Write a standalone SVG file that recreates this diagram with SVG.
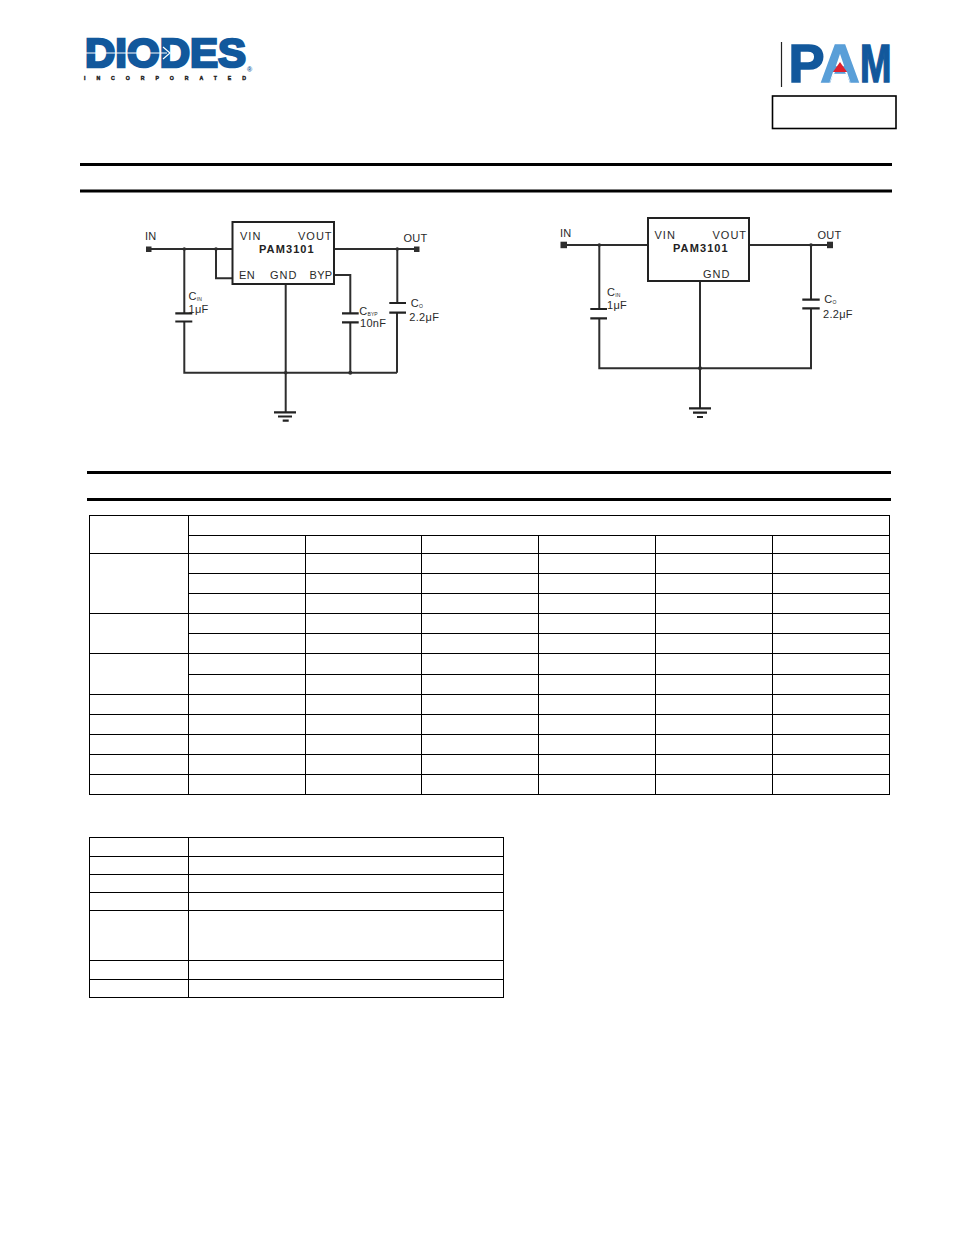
<svg xmlns="http://www.w3.org/2000/svg" width="954" height="1235" viewBox="0 0 954 1235">
<style>
.t{font-family:"Liberation Sans",Arial,sans-serif;fill:#2a2a2a;font-size:11px;letter-spacing:.3px}
.i{letter-spacing:1px}
.b{font-weight:bold;fill:#222;letter-spacing:1.1px}
.s{font-size:5px;letter-spacing:0}
.w{fill:none;stroke:#2e2e2e;stroke-width:2}
.p{fill:none;stroke:#222;stroke-width:2.2}
.n{fill:#2e2e2e}
.box{fill:#fff;stroke:#222;stroke-width:2}
.r{stroke:#000;stroke-width:3}
.logo{font-family:"Liberation Sans",Arial,sans-serif;font-weight:bold}
</style>
<rect width="954" height="1235" fill="#fff"/>
<g id="diodes-logo">
<text class="logo" x="85" y="66.800" font-size="40" fill="#12589c" stroke="#12589c" stroke-width="2.500" textLength="161" lengthAdjust="spacingAndGlyphs">DIODES</text>
<path d="M86 53H167" stroke="#fff" stroke-width="1" fill="none"/>
<path d="M163 47L170 53L163 59" stroke="#fff" stroke-width="1.200" fill="none"/>
<text class="logo" x="84" y="80" font-size="5.200" fill="#222" stroke="#222" stroke-width=".4" textLength="162">INCORPORATED</text>
<text class="logo" x="247" y="72" font-size="7" fill="#12589c">®</text>
</g>
<g id="pam-logo">
<path d="M781.500 42V87" stroke="#222" stroke-width="1.200"/>
<text class="logo" x="788.500 820.500" y="81.500" font-size="54" stroke-width="1.600"><tspan fill="#12589c" stroke="#12589c">P</tspan><tspan fill="#5a9fd8" stroke="#5a9fd8">A</tspan></text>
<polygon points="829,84 840,62 851,84 847,72 833,72" fill="#fff"/>
<polygon points="833,72 840,62 847,72" fill="#e0202e"/>
<text class="logo" x="860" y="81.500" font-size="54" fill="#12589c" stroke="#12589c" stroke-width="1.600" textLength="31.500" lengthAdjust="spacingAndGlyphs">M</text>
</g>
<g id="part-box"><rect x="772.500" y="96" width="123.500" height="32.500" fill="#fff" stroke="#000" stroke-width="1.600"/></g>
<g id="rules">
<path class="r" d="M80 164.500H892M80 191H892M87 472.500H891M87 499.500H891"/>
</g>
<g id="connectors">
<path class="w" d="M150 249H232M216 249V278.300H232M184.300 249V313M184.300 321.500V372.700H397M334 249H415M397.300 249V303M397 312.700V372.700M334 275H350.300V313M350.300 322.300V372.700M285.700 284V412"/>
<path class="p" d="M175.300 313.300H192.300M175.300 321.500H192.300M342 313.300H358.700M342 322.300H358.700M389.300 303H406M389.300 312.700H406M274 412.300H296M278 416.500H292M282.700 420.700H288.700"/>
<path class="w" d="M565 245H647M599.300 245V309M599.300 318.300V368.300H811V308.300M749 245H829M811 245V299.700M700 281V408"/>
<path class="p" d="M590.300 309H607M590.300 318.300H607M802.300 299.700H819.700M802.300 308.300H819.700M689 408.300H711M693 412.700H707M697 417H703"/>
</g>
<g id="dots">
<rect class="n" x="146" y="246.500" width="5.500" height="5.500"/><rect class="n" x="414" y="246.500" width="5.500" height="5.500"/>
<rect class="n" x="560.500" y="241.700" width="6.500" height="6.500"/><rect class="n" x="827" y="241.700" width="6" height="6.500"/>
<circle class="n" cx="184.300" cy="249" r="1.800"/><circle class="n" cx="216" cy="249" r="1.800"/><circle class="n" cx="397.300" cy="249" r="1.800"/><circle class="n" cx="285.700" cy="372.700" r="1.800"/><circle class="n" cx="350.300" cy="372.700" r="2"/>
<circle class="n" cx="599.300" cy="245" r="1.800"/><circle class="n" cx="811" cy="245" r="1.800"/><circle class="n" cx="700" cy="368.300" r="2"/>
</g>
<g id="ic1">
<rect class="box" x="232.500" y="222" width="101.500" height="62"/>
<text class="t i" x="240" y="240">VIN</text><text class="t i" x="298" y="240">VOUT</text>
<text class="t b" x="259" y="252.700">PAM3101</text>
<text class="t" x="239" y="279">EN</text><text class="t i" x="270" y="279">GND</text><text class="t" x="309.500" y="279">BYP</text>
</g>
<g id="ic1-labels">
<text class="t" x="145" y="240">IN</text><text class="t" x="403.500" y="242">OUT</text>
<text class="t" x="188.500" y="300">C<tspan class="s" dy="1">IN</tspan></text><text class="t" x="188.500" y="313.300">1μF</text>
<text class="t" x="359.300" y="314.500">C<tspan class="s" dy="1">BYP</tspan></text><text class="t" x="360" y="327">10nF</text>
<text class="t" x="410.700" y="306.700">C<tspan class="s" dy="1">O</tspan></text><text class="t" x="409.300" y="321">2.2μF</text>
</g>
<g id="ic2">
<rect class="box" x="648" y="218" width="101" height="63"/>
<text class="t i" x="654.500" y="239">VIN</text><text class="t i" x="712.500" y="239">VOUT</text>
<text class="t b" x="673" y="251.700">PAM3101</text>
<text class="t i" x="703" y="278">GND</text>
</g>
<g id="ic2-labels">
<text class="t" x="560" y="236.700">IN</text><text class="t" x="817.500" y="238.700">OUT</text>
<text class="t" x="607" y="295.500">C<tspan class="s" dy="1">IN</tspan></text><text class="t" x="607" y="309.300">1μF</text>
<text class="t" x="824.300" y="303.300">C<tspan class="s" dy="1">O</tspan></text><text class="t" x="823" y="317.700">2.2μF</text>
</g>
<g id="table1" fill="none" stroke="#000" stroke-width="1">
<rect x="89.500" y="515.500" width="800" height="279"/>
<path d="M188.500 515.500V794.500M188.500 535.500H889.500M89.500 553.500H889.500M188.500 573.500H889.500M188.500 593.500H889.500M89.500 613.500H889.500M188.500 633.500H889.500M89.500 653.500H889.500M188.500 674.500H889.500M89.500 694.500H889.500M89.500 714.500H889.500M89.500 734.500H889.500M89.500 754.500H889.500M89.500 774.500H889.500"/>
<path d="M305.500 535.500V794.500M421.500 535.500V794.500M538.500 535.500V794.500M655.500 535.500V794.500M772.500 535.500V794.500"/>
</g>
<g id="table2" fill="none" stroke="#000" stroke-width="1">
<rect x="89.500" y="837.500" width="414" height="160"/>
<path d="M188.500 837.500V997.500M89.500 856.500H503.500M89.500 874.500H503.500M89.500 892.500H503.500M89.500 910.500H503.500M89.500 960.500H503.500M89.500 979.500H503.500"/>
</g>
</svg>
